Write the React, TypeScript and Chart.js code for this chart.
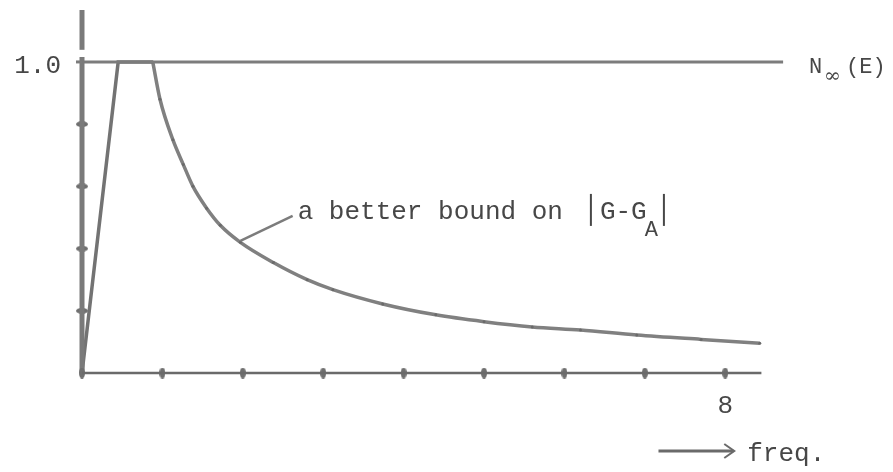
import React, { useEffect, useRef } from "react";
import { Chart, registerables } from "chart.js";
Chart.register(...registerables);

// ---- data ----
const xTickValues = [0, 1, 2, 3, 4, 5, 6, 7, 8];
const xTickLabels = ["", "", "", "", "", "", "", "", "8"];
const yTickValues = [0.2, 0.4, 0.6, 0.8];
const yLabelValues = [1.0];
const yTickLabels = ["1.0"];
const xAxisRange = [0, 8.45];
const yAxisLower = [0, 1.016];
const yAxisUpper = [1.039, 1.167];
const riseFreq = [0, 0.45, 0.88];
const riseBound = [0, 1.0, 1.0];
const decayFreq = [0.88, 0.97, 1.13, 1.26, 1.38, 1.55, 1.72, 1.97, 2.38, 2.8, 3.12, 3.74, 4.4, 5.0, 5.6, 6.2, 6.9, 7.7, 8.43];
const decayBound = [1.0, 0.88, 0.75, 0.67, 0.6, 0.53, 0.475, 0.42, 0.355, 0.3, 0.268, 0.222, 0.187, 0.165, 0.148, 0.138, 0.122, 0.108, 0.096];
const nInfFreq = [0, 8.72];
const nInfValue = [1.0, 1.0];
const nInfLabel = ["N", "∞", "(E)"];
const boundLabel = ["a better bound on", "G-G", "A"];
const freqLabel = "freq.";

const INK = "#474747";
const LINE = "#7c7c7c";
const FONT = "'Liberation Mono', 'DejaVu Sans Mono', monospace";

function ellipse(w: number, h: number, color: string): HTMLCanvasElement {
  const c = document.createElement("canvas");
  c.width = w;
  c.height = h;
  const g = c.getContext("2d")!;
  g.fillStyle = color;
  g.beginPath();
  g.ellipse(w / 2, h / 2, w / 2, h / 2, 0, 0, Math.PI * 2);
  g.fill();
  return c;
}

const textPlugin = {
  id: "texts",
  afterDatasetsDraw(chart: any) {
    const { ctx } = chart;
    const xs = chart.scales.x;
    const ys = chart.scales.y;
    const px = (v: number) => xs.getPixelForValue(v);
    const py = (v: number) => ys.getPixelForValue(v);
    ctx.save();
    ctx.fillStyle = INK;
    ctx.strokeStyle = INK;
    ctx.textBaseline = "alphabetic";

    // y tick labels
    ctx.font = `26px ${FONT}`;
    ctx.textAlign = "right";
    yLabelValues.forEach((v, i) => {
      ctx.fillText(yTickLabels[i], px(0) - 21, py(v) + 11);
    });
    // small mark left of axis at 1.0
    ctx.strokeStyle = LINE;
    ctx.lineWidth = 3;
    ctx.beginPath();
    ctx.moveTo(px(0) - 6, py(1.0));
    ctx.lineTo(px(0), py(1.0));
    ctx.stroke();

    // x tick labels
    ctx.textAlign = "center";
    xTickValues.forEach((v, i) => {
      if (xTickLabels[i]) ctx.fillText(xTickLabels[i], px(v), py(0) + 40);
    });

    // N∞(E) label
    ctx.textAlign = "left";
    const nx = px(nInfFreq[1]) + 26;
    const nb = py(1.0) + 11;
    ctx.font = `22px ${FONT}`;
    ctx.fillText(nInfLabel[0], nx, nb);
    ctx.font = `20px 'DejaVu Serif', serif`;
    ctx.fillText(nInfLabel[1], nx + 15, nb + 9);
    ctx.font = `22px ${FONT}`;
    ctx.fillText(nInfLabel[2], nx + 37, nb);

    // annotation leader line
    ctx.strokeStyle = LINE;
    ctx.lineWidth = 2.5;
    ctx.beginPath();
    ctx.moveTo(px(1.97), py(0.425));
    ctx.lineTo(px(2.62), py(0.505));
    ctx.stroke();

    // annotation text
    ctx.fillStyle = INK;
    ctx.strokeStyle = INK;
    ctx.font = `26px ${FONT}`;
    const tx = px(2.62) + 5;
    const tb = py(0.505) + 3;
    ctx.fillText(boundLabel[0], tx, tb);
    const w0 = ctx.measureText(boundLabel[0]).width;
    const bar1 = tx + w0 + 28;
    ctx.lineWidth = 2;
    ctx.beginPath();
    ctx.moveTo(bar1, tb - 25);
    ctx.lineTo(bar1, tb + 7);
    ctx.stroke();
    const gx = bar1 + 9;
    ctx.fillText(boundLabel[1], gx, tb);
    const w1 = ctx.measureText(boundLabel[1]).width;
    ctx.font = `22px ${FONT}`;
    ctx.fillText(boundLabel[2], gx + w1 - 2, tb + 17);
    const w2 = ctx.measureText(boundLabel[2]).width;
    const bar2 = gx + w1 + w2 + 4;
    ctx.beginPath();
    ctx.moveTo(bar2, tb - 25);
    ctx.lineTo(bar2, tb + 7);
    ctx.stroke();

    // arrow + freq.
    const ay = py(0) + 78;
    const ax0 = px(7.17);
    const ax1 = px(8.1);
    ctx.strokeStyle = "#6a6a6a";
    ctx.lineWidth = 3;
    ctx.beginPath();
    ctx.moveTo(ax0, ay);
    ctx.lineTo(ax1, ay);
    ctx.stroke();
    ctx.lineWidth = 2;
    ctx.beginPath();
    ctx.moveTo(ax1 - 9, ay - 7);
    ctx.lineTo(ax1 + 1, ay);
    ctx.lineTo(ax1 - 9, ay + 7);
    ctx.stroke();
    ctx.font = `26px ${FONT}`;
    ctx.fillText(freqLabel, ax1 + 14, ay + 10);
    ctx.restore();
  },
};

export default function App() {
  const ref = useRef<HTMLCanvasElement | null>(null);
  useEffect(() => {
    if (!ref.current) return;
    const vDot = ellipse(6, 11, "#6f6f6f");
    const hDot = ellipse(12, 6, "#6f6f6f");
    const pts = (xs: number[], ys: number[]) => xs.map((x, i) => ({ x, y: ys[i] }));
    const chart = new Chart(ref.current, {
      type: "scatter",
      data: {
        datasets: [
          {
            label: "x axis",
            data: pts(xAxisRange, [0, 0]),
            showLine: true,
            borderColor: "#6a6a6a",
            borderWidth: 2.5,
            pointRadius: 0,
            clip: false,
          },
          {
            label: "x ticks",
            data: pts(xTickValues, xTickValues.map(() => 0)),
            pointStyle: vDot as any,
            pointRadius: 5,
            clip: false,
          },
          {
            label: "y axis lower",
            data: pts([0, 0], yAxisLower),
            showLine: true,
            borderColor: "#7a7a7a",
            borderWidth: 5,
            pointRadius: 0,
            clip: false,
          },
          {
            label: "y axis upper",
            data: pts([0, 0], yAxisUpper),
            showLine: true,
            borderColor: "#7a7a7a",
            borderWidth: 5,
            pointRadius: 0,
            clip: false,
          },
          {
            label: "y ticks",
            data: pts(yTickValues.map(() => 0), yTickValues),
            pointStyle: hDot as any,
            pointRadius: 5,
            clip: false,
          },
          {
            label: nInfLabel.join(""),
            data: pts(nInfFreq, nInfValue),
            showLine: true,
            borderColor: LINE,
            borderWidth: 3,
            pointRadius: 0,
            clip: false,
          },
          {
            label: "rise",
            data: pts(riseFreq, riseBound),
            showLine: true,
            borderColor: "#737373",
            borderWidth: 3.5,
            pointRadius: 0,
            tension: 0,
            clip: false,
          },
          {
            label: boundLabel.join(" "),
            data: pts(decayFreq, decayBound),
            showLine: true,
            borderColor: "#808080",
            borderWidth: 3.5,
            pointRadius: 1.5,
            pointBackgroundColor: "#6a6a6a",
            pointBorderWidth: 0,
            cubicInterpolationMode: "monotone",
            clip: false,
          },
        ],
      },
      options: {
        responsive: false,
        animation: false,
        maintainAspectRatio: false,
        layout: { padding: { left: 82, right: 131.6, top: 10, bottom: 99 } },
        scales: {
          x: { type: "linear", min: 0, max: 8.45, display: false },
          y: { type: "linear", min: 0, max: 1.167, display: false },
        },
        plugins: { legend: { display: false }, tooltip: { enabled: false } },
        events: [],
      } as any,
      plugins: [textPlugin],
    });
    return () => chart.destroy();
  }, []);
  return (
    <div style={{ position: "fixed", left: 0, top: 0, width: 893, height: 472, background: "#fff" }}>
      <canvas ref={ref} width={893} height={472} style={{ width: 893, height: 472, display: "block" }} />
    </div>
  );
}
